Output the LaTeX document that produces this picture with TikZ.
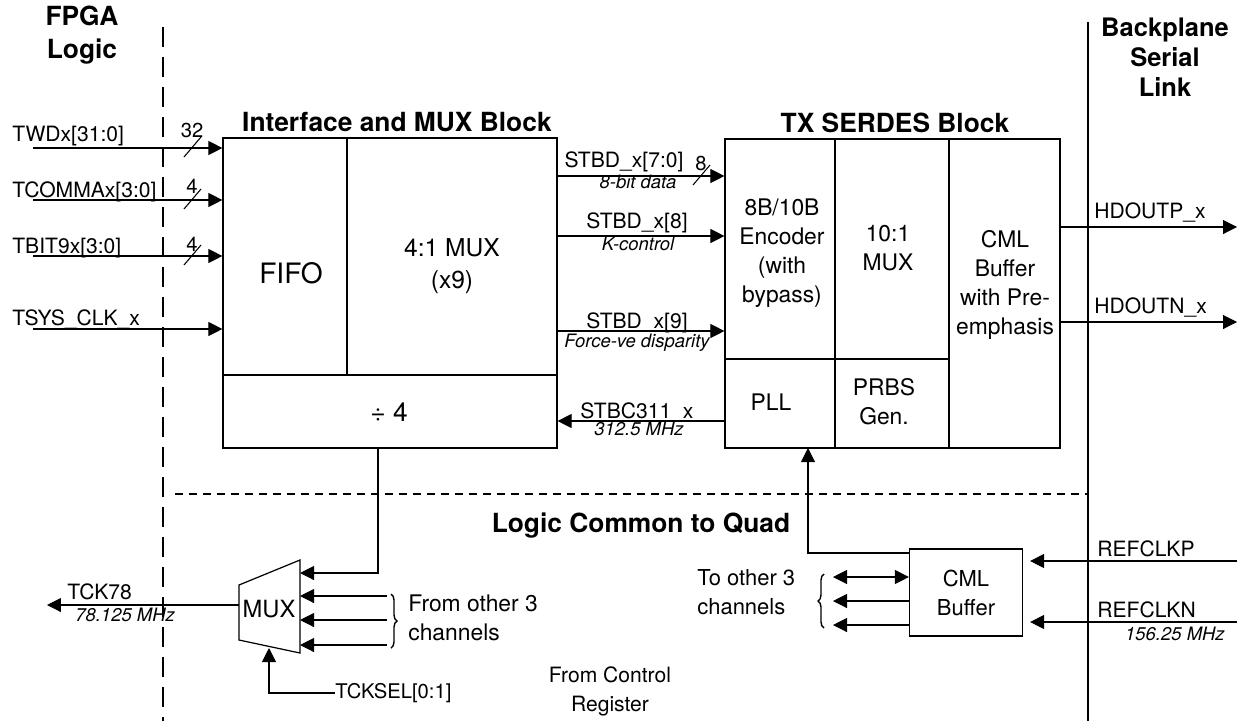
\documentclass[tikz,border=0pt]{standalone}
\usepackage{fontspec}
\setmainfont{TeX Gyre Heros}
\usetikzlibrary{arrows.meta,positioning,decorations.pathreplacing}
\tikzset{
  >={Triangle[length=0.28cm,width=0.28cm]},
  sig/.style={->, line width=0.6pt},
  wire/.style={line width=0.6pt},
  blk/.style={draw, line width=0.7pt, inner sep=0pt},
  blktext/.style={font=\fontsize{13}{16.5}\selectfont, align=center, inner sep=0pt},
  lbl/.style={font=\fontsize{12}{14}\selectfont, inner sep=0pt},
  sub/.style={font=\fontsize{10.5}{12}\selectfont\itshape, inner sep=0pt},
  buswd/.style={font=\fontsize{11.5}{13}\selectfont, inner sep=0pt},
  title/.style={font=\fontsize{15}{17}\selectfont\bfseries, align=center, inner sep=0pt},
  fpgaline/.style={line width=0.7pt, dash pattern=on 0.4cm off 0.2cm},
  quadline/.style={line width=0.6pt, dash pattern=on 0.16cm off 0.12cm},
  brc/.style={line width=0.8pt, decorate, decoration={brace, amplitude=0.12cm}}
}
% bus slash: x, y of the line, width text, baseline of the text
\newcommand{\BusSlash}[4]{%
  \draw[wire] (#1,#2) ++(-8,9) -- ++(17,-20);
  \node[buswd, anchor=base] at (#1,#4) {#3};
}

\begin{document}
\begin{tikzpicture}[x=0.02cm,y=-0.02cm]
  \useasboundingbox (0,0) rectangle (1243,721);

  % region borders
  \draw[fpgaline] (163,27) -- (163,721);
  \draw[wire] (1088,22) -- (1088,721);
  \draw[quadline] (175,494) -- (1088,494);
  \node[title] (fpgattl) at (82,35) {FPGA\\[2pt]Logic};
  \node[title, font=\fontsize{14.5}{17}\selectfont\bfseries] (bkpttl) at (1165,57) {Backplane\\Serial\\Link};
  \node[title, anchor=base] (quadttl) at (641,532) {Logic Common to Quad};

  % interface and mux block
  \node[blk, minimum width=6.68cm, minimum height=6.2cm] (ifblk) at (390,293) {};
  \draw[wire] (347,138) -- (347,375);
  \draw[wire] (223,375) -- (557,375);
  \node[title, anchor=base] (ifttl) at (397,131) {Interface and MUX Block};
  \node[blktext, font=\fontsize{16}{18}\selectfont] (fifo) at (291,273) {FIFO};
  \node[blktext, font=\fontsize{14}{18}\selectfont] (mux4) at (452,266) {4:1 MUX\\(x9)};
  \node[blktext, font=\fontsize{15}{17}\selectfont] (div4) at (389,412) {÷ 4};

  % tx serdes block
  \node[blk, minimum width=6.7cm, minimum height=6.18cm] (txblk) at (892.5,293.5) {};
  \draw[wire] (835,139) -- (835,448);
  \draw[wire] (949,139) -- (949,448);
  \draw[wire] (725,359) -- (949,359);
  \node[title, anchor=base] (txttl) at (895,132) {TX SERDES Block};
  \node[blktext] (enc) at (782,253) {8B/10B\\Encoder\\(with\\bypass)};
  \node[blktext] (mux10) at (888,248) {10:1\\MUX};
  \node[blktext] (cmlpre) at (1005,285) {CML\\Buffer\\with Pre-\\emphasis};
  \node[blktext] (pll) at (771,402) {PLL};
  \node[blktext] (prbs) at (884,402) {PRBS\\Gen.};

  % fpga side inputs
  \coordinate (twdin) at (33,148);
  \coordinate (tcommain) at (33,200);
  \coordinate (tbitin) at (33,256);
  \coordinate (tsysin) at (33,329);
  \draw[sig] (twdin) -- (twdin -| ifblk.west);
  \draw[sig] (tcommain) -- (tcommain -| ifblk.west);
  \draw[sig] (tbitin) -- (tbitin -| ifblk.west);
  \draw[sig] (tsysin) -- (tsysin -| ifblk.west);
  \node[lbl, anchor=base west] (twdlbl) at (12,141) {TWDx[31:0]};
  \node[lbl, anchor=base west] (tcommalbl) at (12,197) {TCOMMAx[3:0]};
  \node[lbl, anchor=base west] (tbitlbl) at (12,253) {TBIT9x[3:0]};
  \node[lbl, anchor=base west] (tsyslbl) at (12,325) {TSYS\_CLK\_x};
  \BusSlash{192}{148}{32}{137}
  \BusSlash{192}{200}{4}{193}
  \BusSlash{192}{256}{4}{251}

  % between the blocks
  \coordinate (stbd70) at (557,176);
  \coordinate (stbd8) at (557,236);
  \coordinate (stbd9) at (557,331);
  \coordinate (stbc) at (725,421);
  \draw[sig] (stbd70) -- (stbd70 -| txblk.west);
  \draw[sig] (stbd8) -- (stbd8 -| txblk.west);
  \draw[sig] (stbd9) -- (stbd9 -| txblk.west);
  \draw[sig] (stbc) -- (stbc -| ifblk.east);
  \node[lbl, anchor=base] (stbd70lbl) at (624,167) {STBD\_x[7:0]};
  \node[sub, anchor=base] (stbd70sub) at (638,188) {8-bit data};
  \BusSlash{701}{176}{8}{170}
  \node[lbl, anchor=base] (stbd8lbl) at (637,228) {STBD\_x[8]};
  \node[sub, anchor=base] (stbd8sub) at (638,250) {K-control};
  \node[lbl, anchor=base] (stbd9lbl) at (637,328) {STBD\_x[9]};
  \node[sub, anchor=base] (stbd9sub) at (637,347) {Force-ve disparity};
  \node[lbl, anchor=base] (stbclbl) at (637,418) {STBC311\_x};
  \node[sub, anchor=base] (stbcsub) at (639,435) {312.5 MHz};

  % backplane outputs
  \coordinate (hdp) at (1237,227);
  \coordinate (hdn) at (1237,322);
  \draw[sig] (txblk.east |- hdp) -- (hdp);
  \draw[sig] (txblk.east |- hdn) -- (hdn);
  \node[lbl, anchor=base west] (hdplbl) at (1094,218) {HDOUTP\_x};
  \node[lbl, anchor=base west] (hdnlbl) at (1094,313) {HDOUTN\_x};

  % clock mux
  \coordinate (muxtl) at (239,585);
  \coordinate (muxtr) at (300,560);
  \coordinate (muxbr) at (300,653);
  \coordinate (muxbl) at (239,640);
  \draw[blk] (muxtl) -- (muxtr) -- (muxbr) -- (muxbl) -- cycle;
  \node[blktext, font=\fontsize{13.5}{15}\selectfont] (mux) at (269,609) {MUX};
  \coordinate (divout) at (378,448);
  \coordinate (muxin0) at (300,573);
  \coordinate (muxin1) at (300,596);
  \coordinate (muxin2) at (300,620);
  \coordinate (muxin3) at (300,645);
  \coordinate (muxout) at (239,605);
  \coordinate (muxsel) at (269,648);
  \coordinate (tckout) at (47,605);
  \draw[sig] (divout) |- (muxin0);
  \foreach \n in {1,2,3}
    \draw[sig] ([xshift=1.74cm]muxin\n) -- (muxin\n);
  \draw[brc] (391,594) -- (391,648);
  \node[lbl, anchor=west, align=left, font=\fontsize{13}{16.5}\selectfont] (fromoth) at (408,618) {From other 3\\channels};
  \draw[sig] (muxout) -- (tckout);
  \node[lbl, anchor=base west] (tcklbl) at (67,599) {TCK78};
  \node[sub, anchor=base west] (tcksub) at (75,621) {78.125 MHz};
  \node[lbl, anchor=west, font=\fontsize{11.5}{13}\selectfont] (tcksel) at (335,693) {TCKSEL[0:1]};
  \draw[sig] (tcksel.west) -| (muxsel);
  \node[lbl, align=center, font=\fontsize{12}{16.5}\selectfont] (ctrlreg) at (610,691) {From Control\\Register};

  % reference clock buffer
  \node[blk, blktext, font=\fontsize{12.5}{16.5}\selectfont, minimum width=2.26cm, minimum height=1.74cm] (cmlbuf) at (966,592.5) {CML\\Buffer};
  \coordinate (fbrow) at (0,553);
  \coordinate (pllin) at (808,448);
  \draw[sig] (cmlbuf.west |- fbrow) -| (pllin);
  \coordinate (oth1) at (833,577);
  \coordinate (oth2) at (833,601);
  \coordinate (oth3) at (833,625);
  \draw[wire, <->] (oth1) -- (oth1 -| cmlbuf.west);
  \draw[sig] (cmlbuf.west |- oth2) -- (oth2);
  \draw[sig] (cmlbuf.west |- oth3) -- (oth3);
  \draw[brc] (824,628) -- (824,574);
  \node[lbl, anchor=west, align=left, font=\fontsize{12.5}{16.5}\selectfont] (tooth) at (697,592) {To other 3\\channels};
  \coordinate (refp) at (1237,561);
  \coordinate (refn) at (1237,622);
  \draw[sig] (refp) -- ([xshift=0.14cm]refp -| cmlbuf.east);
  \draw[sig] (refn) -- ([xshift=0.14cm]refn -| cmlbuf.east);
  \node[lbl, anchor=base west] (refplbl) at (1097,556) {REFCLKP};
  \node[lbl, anchor=base west] (refnlbl) at (1097,617) {REFCLKN};
  \node[sub, anchor=base east] (refnsub) at (1225,640) {156.25 MHz};
\end{tikzpicture}
\end{document}
